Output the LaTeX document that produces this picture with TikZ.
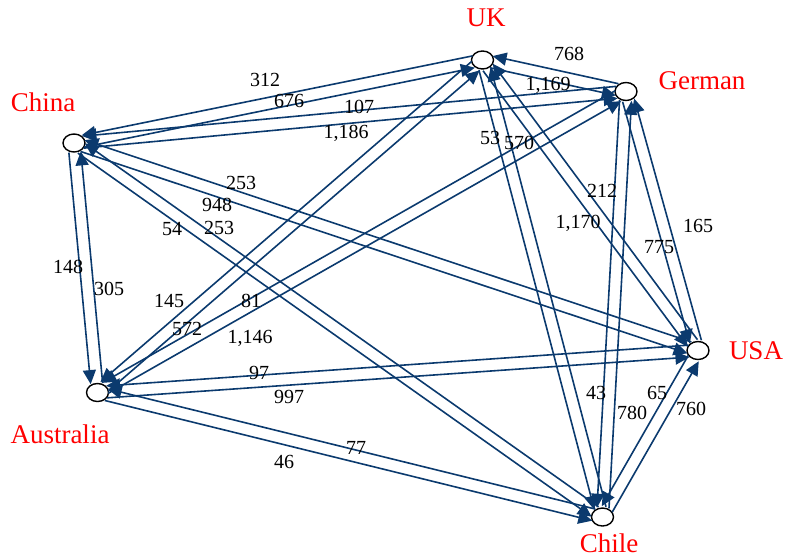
\documentclass[tikz,border=0pt]{standalone}
\usepackage{fontspec}
\setmainfont{Liberation Serif}
\usepackage{xcolor}
\usepackage{tikz}
\usetikzlibrary{calc,arrows.meta,shapes.geometric}
\definecolor{flowblue}{HTML}{0B3A6E}

\begin{document}
\begin{tikzpicture}[x=1pt,y=-1pt,
                country/.style={draw=black,line width=1.4pt,ellipse,minimum width=22pt,minimum height=18pt,inner sep=0pt},
                cname/.style={text=red,font=\fontsize{27}{30}\selectfont,inner sep=0pt},
                num/.style={font=\fontsize{20}{22}\selectfont,inner sep=0pt},
                flow/.style={draw=flowblue,line width=1.6pt,-{Triangle[length=14pt,width=13pt]},
                    shorten >=9pt,shorten <=9pt,
                    to path={($(\tikztostart.center)!6pt!-90:(\tikztotarget.center)$) -- ($(\tikztotarget.center)!6pt!90:(\tikztostart.center)$)}}]
                \useasboundingbox (0,0) rectangle (786,559);
                \node[country] (uk) at (482.5,60) {};
                \node[country] (de) at (626,91.5) {};
                \node[country] (cn) at (74,143) {};
                \node[country] (au) at (97.5,392.5) {};
                \node[country] (us) at (698,350.5) {};
                \node[country] (cl) at (602.5,517) {};
                \node[cname] (uk-name) at (486,18) {UK};
                \node[cname] (de-name) at (702,81) {German};
                \node[cname] (cn-name) at (43,102) {China};
                \node[cname] (au-name) at (60,434) {Australia};
                \node[cname] (us-name) at (756,351) {USA};
                \node[cname] (cl-name) at (609,543) {Chile};
                \foreach \a/\b in {de/uk,uk/de,uk/cn,cn/uk,de/cn,cn/de,us/cn,cn/us,cl/cn,cn/cl,
                    cn/au,au/cn,uk/au,au/uk,de/au,au/de,us/au,au/us,cl/au,au/cl,
                    uk/cl,cl/uk,uk/us,us/uk,de/cl,cl/de,de/us,us/de,cl/us,us/cl}
                    \draw[flow] (\a) to (\b);
                \foreach \a/\b/\n/\x/\y in {de/uk/768/569/54, uk/de/{1,169}/548/85,
                    uk/cn/312/265/80, cn/uk/676/289/101, de/cn/107/359/107, cn/de/{1,186}/346/133,
                    us/cn/253/241/183, cn/us/948/217/205, cl/cn/253/219/228, cn/cl/54/172/229,
                    cn/au/148/68/267, au/cn/305/109/289, uk/au/145/169/301, au/uk/572/187/329,
                    de/au/81/251/301, au/de/{1,146}/250/338, us/au/97/259/373, au/us/997/289/397,
                    cl/au/77/356/448, au/cl/46/284/462, uk/cl/53/490/138, cl/uk/570/519/143,
                    uk/us/{1,170}/578/223, us/uk/212/602/191, de/cl/43/596/393, cl/de/780/632/413,
                    de/us/775/659/247, us/de/165/698/226, cl/us/760/691/409, us/cl/65/657/393}
                    \node[num] (n-\a-\b) at (\x,\y) {\n};
            \end{tikzpicture}
\end{document}
